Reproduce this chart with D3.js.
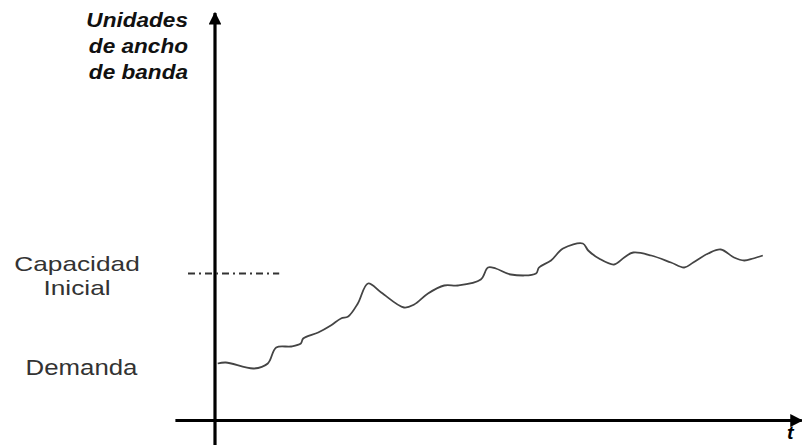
<!DOCTYPE html>
<html>
<head>
<meta charset="utf-8">
<script src="https://d3js.org/d3.v7.min.js"></script>
<style>
  body { margin: 0; background: #fff; }
  svg text { font-family: "Liberation Sans", Arial, sans-serif; }
</style>
</head>
<body>
<svg id="chart" width="802" height="445"></svg>
<script>
// demand curve (time units, bandwidth units)
var tiempo  = [0.45, 1.8, 6.5, 8.8, 10.2, 12.7, 14.3, 14.7, 17.2, 19.3, 21, 22.2, 23.8, 25.5, 27.7, 31.5, 33.2, 35.5, 38.2, 40.5, 44.3, 45.5, 46.8, 49.3, 53.5, 54, 56, 58, 61.3, 62.2, 64, 66.5, 68.2, 69.7, 72.7, 76, 78.2, 79.7, 82.2, 84.3, 86.5, 88.2, 89.7, 91.3];
var demanda = [14.25, 14.5, 13, 14.25, 18.25, 18.5, 19.25, 20.5, 22, 23.75, 25.5, 26, 29.25, 34.25, 32, 28.25, 29, 31.75, 33.75, 33.75, 35.25, 38.25, 38, 36.5, 36.75, 38.25, 40, 43, 44.25, 42.5, 40.5, 39, 40.75, 42, 41.25, 39.5, 38.25, 39.5, 41.75, 42.75, 40.75, 40, 40.5, 41.25];

// initial capacity level and the span of its dashed mark
var capacidad = 36.75;
var capacidadTramo = [-4.5, 10.7];

var ejeY = ["Unidades", "de ancho", "de banda"];
var etiquetaCap = ["Capacidad", "Inicial"];
var etiquetaDem = "Demanda";

var svg = d3.select("#chart");

var x = d3.scaleLinear().domain([0, 100]).range([215, 815]);
var y = d3.scaleLinear().domain([0, 100]).range([420.5, 20.5]);

// the original lettering is a bit wide, stretch it sideways
function ancho(sel, tx, ty, sx) {
  return sel.attr("transform", "translate(" + tx + "," + ty + ") scale(" + sx + ",1)");
}

// axes
svg.append("defs").append("marker")
    .attr("id", "flecha")
    .attr("viewBox", "0 0 10 10")
    .attr("refX", 9).attr("refY", 5)
    .attr("markerWidth", 4).attr("markerHeight", 4)
    .attr("orient", "auto")
  .append("path")
    .attr("d", "M0,0 L10,5 L0,10 z")
    .attr("fill", "#000");

svg.append("line")
    .attr("x1", x(0)).attr("x2", x(0))
    .attr("y1", 445).attr("y2", 13)
    .attr("stroke", "#000").attr("stroke-width", 3.2)
    .attr("marker-end", "url(#flecha)");

svg.append("line")
    .attr("x1", x(-6.6)).attr("x2", x(97.8))
    .attr("y1", y(0)).attr("y2", y(0))
    .attr("stroke", "#000").attr("stroke-width", 3.2)
    .attr("marker-end", "url(#flecha)");

// y axis title
ejeY.forEach(function(d, i) {
  svg.append("text")
      .call(ancho, 188, 27 + i * 26, 1.13)
      .attr("text-anchor", "end")
      .attr("font-size", 20)
      .attr("font-weight", "bold")
      .attr("font-style", "italic")
      .attr("fill", "#111")
      .text(d);
});

// t label, tucked into the bottom right corner
svg.append("text")
    .call(ancho, 787, 439, 1.1)
    .attr("font-size", 18)
    .attr("font-weight", "bold")
    .attr("font-style", "italic")
    .text("t");

// initial capacity dash-dot mark
svg.append("line")
    .attr("x1", x(capacidadTramo[0])).attr("x2", x(capacidadTramo[1]))
    .attr("y1", y(capacidad)).attr("y2", y(capacidad))
    .attr("stroke", "#333").attr("stroke-width", 2)
    .attr("stroke-dasharray", "7,4,2,4");

etiquetaCap.forEach(function(d, i) {
  svg.append("text")
      .call(ancho, 77, y(capacidad) - 3 + i * 24, 1.25)
      .attr("text-anchor", "middle")
      .attr("font-size", 21)
      .attr("fill", "#333")
      .text(d);
});

svg.append("text")
    .call(ancho, 81.5, y(demanda[0]) + 11, 1.2)
    .attr("text-anchor", "middle")
    .attr("font-size", 21.5)
    .attr("fill", "#333")
    .text(etiquetaDem);

// demand curve
var puntos = d3.zip(tiempo, demanda);
svg.append("path")
    .datum(puntos)
    .attr("fill", "none")
    .attr("stroke", "#444")
    .attr("stroke-width", 1.8)
    .attr("stroke-linejoin", "round")
    .attr("d", d3.line()
        .x(function(d) { return x(d[0]); })
        .y(function(d) { return y(d[1]); })
        .curve(d3.curveCatmullRom.alpha(0.5)));
</script>
</body>
</html>
